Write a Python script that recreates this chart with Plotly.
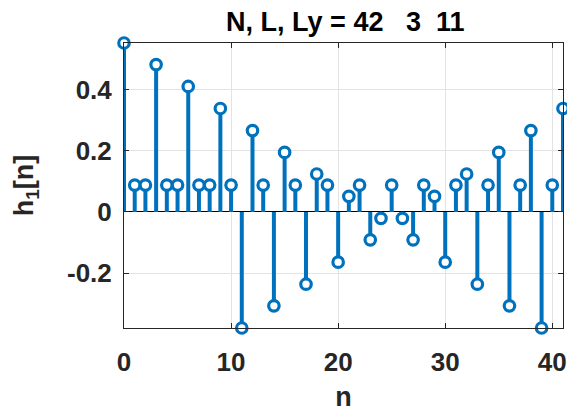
import plotly.graph_objects as go

n = list(range(42))
h1 = [0.552, 0.088, 0.088, 0.4815, 0.088, 0.088, 0.41, 0.088, 0.088, 0.338,
      0.088, -0.379, 0.266, 0.088, -0.3065, 0.1946, 0.088, -0.236, 0.124, 0.088,
      -0.164, 0.051, 0.088, -0.091, -0.0207, 0.088, -0.0207, -0.091, 0.088, 0.051,
      -0.164, 0.088, 0.124, -0.236, 0.088, 0.1946, -0.3065, 0.088, 0.266, -0.379,
      0.088, 0.338]
title_text = "N, L, Ly = 42\u00a0\u00a0\u00a03\u00a0\u00a011"
x_ticks = [0, 10, 20, 30, 40]
y_ticks = [-0.2, 0, 0.2, 0.4]
y_tick_labels = ["-0.2", "0", "0.2", "0.4"]

BLUE = "#0072BD"
TXT = "#262626"
FONT = "Liberation Sans"

sx, sy = [], []
for xi, yi in zip(n, h1):
    sx += [xi, xi, None]
    sy += [0, yi, None]

fig = go.Figure()
fig.add_trace(go.Scatter(x=sx, y=sy, mode="lines",
                         line=dict(color=BLUE, width=4),
                         hoverinfo="skip", showlegend=False, cliponaxis=False))
fig.add_trace(go.Scatter(x=n, y=h1, mode="markers",
                         marker=dict(symbol="circle", size=10.5, color="white",
                                     line=dict(color=BLUE, width=3.2)),
                         showlegend=False, cliponaxis=False))

fig.update_layout(
    width=567, height=412,
    margin=dict(l=124, r=0, t=43, b=84),
    paper_bgcolor="white", plot_bgcolor="white",
    font=dict(family=FONT, color=TXT),
    title=dict(text="<b>" + title_text + "</b>", x=0.609, xanchor="center",
               y=0.948, yanchor="middle",
               font=dict(size=27, family=FONT, color="black")),
)
fig.update_xaxes(range=[0, 41], tickvals=x_ticks, ticktext=[f"<b>{v}</b>" for v in x_ticks],
                 tickfont=dict(size=26, family=FONT, color=TXT),
                 ticks="inside", ticklen=5, tickcolor=TXT,
                 ticklabelstandoff=11, ticklabeloverflow="allow",
                 showgrid=True, gridcolor="#e3e3e3", gridwidth=1,
                 showline=True, linecolor=TXT, linewidth=1, mirror="ticks",
                 zeroline=False,
                 title=dict(text="<b>n</b>", font=dict(size=27, family=FONT, color=TXT), standoff=10))
fig.update_yaxes(range=[-0.379, 0.552], tickvals=y_ticks,
                 ticktext=[f"<b>{t}</b>" for t in y_tick_labels],
                 tickfont=dict(size=26, family=FONT, color=TXT),
                 ticks="inside", ticklen=5, tickcolor=TXT,
                 ticklabelstandoff=6, ticklabeloverflow="allow",
                 showgrid=True, gridcolor="#e3e3e3", gridwidth=1,
                 showline=True, linecolor=TXT, linewidth=1, mirror="ticks",
                 zeroline=True, zerolinecolor="black", zerolinewidth=1,
                 title=dict(text="<b>h<sub>1</sub>[n]</b>", font=dict(size=27, family=FONT, color=TXT), standoff=25))

fig.write_html("out.html")
